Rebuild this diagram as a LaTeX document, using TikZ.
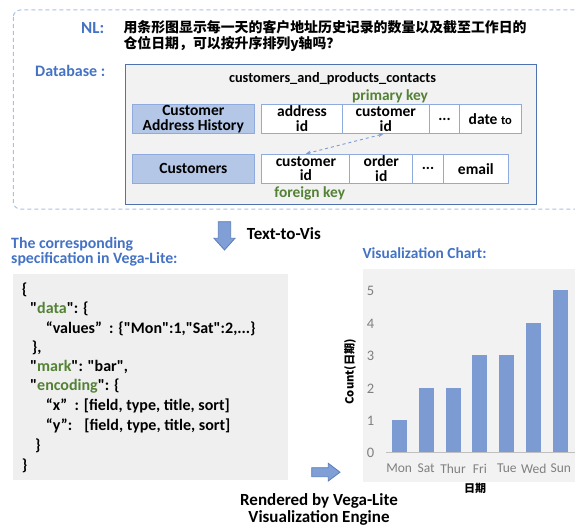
\documentclass[tikz,border=0pt]{standalone}
\usepackage{fontspec}
\setmainfont{Carlito}[Ligatures=TeXOff]
\newfontfamily\cjk{Noto Sans CJK SC}
\usetikzlibrary{arrows.meta}
\definecolor{lblue}{HTML}{4472C4}
\definecolor{kgreen}{HTML}{548235}
\definecolor{dashb}{HTML}{A9C0E6}
\definecolor{dbfill}{HTML}{F2F2F2}
\definecolor{dbline}{HTML}{4F72B0}
\definecolor{hdrfill}{HTML}{B4C7E7}
\definecolor{cellb}{HTML}{8FAADC}
\definecolor{barc}{HTML}{7B9BD2}
\definecolor{arrf}{HTML}{7F9FD6}
\definecolor{arrd}{HTML}{5A7DB9}
\definecolor{codef}{HTML}{EFEFEF}
\definecolor{axisg}{HTML}{808080}
\tikzset{
  hdr/.style={draw=cellb, fill=hdrfill, line width=1pt, inner sep=0pt, minimum height=29pt, align=center, font=\bfseries\fontsize{15.5}{14.8}\selectfont},
  cell/.style={draw=cellb, fill=white, line width=1pt, inner sep=0pt, minimum height=29pt, align=center, font=\bfseries\fontsize{15.5}{14.8}\selectfont},
  bluelbl/.style={text=lblue, font=\bfseries\fontsize{15.8}{15.3}\selectfont, inner sep=0pt, align=left},
  keylbl/.style={text=kgreen, font=\bfseries\fontsize{15.4}{16}\selectfont, inner sep=0pt},
  codeln/.style={anchor=west, inner sep=0pt, font=\bfseries\fontsize{16}{18}\selectfont},
  ticklbl/.style={text=axisg, inner sep=0pt, font=\fontsize{13.5}{15}\selectfont},
  blockarrow/.style={fill=arrf, draw=arrd, line width=0.8pt, line join=miter},
  fk/.style={dashed, draw=barc, line width=0.9pt, {Stealth[length=5pt,width=4pt]}-{Stealth[length=5pt,width=4pt]}}
}
\newcommand{\kw}[1]{\textcolor{kgreen}{#1}}
\begin{document}
\begin{tikzpicture}[x=1pt,y=-1pt]
\useasboundingbox (0,0) rectangle (575,527);
\clip (0,0) rectangle (575,527);
% outer dashed frame
\draw[dashb, line width=1pt, dash pattern=on 4pt off 3pt, rounded corners=7pt] (13.3,10) rectangle (600,209);
% NL
\node[bluelbl, anchor=east, font=\bfseries\fontsize{17}{18}\selectfont] (nl) at (104.5,28.5) {NL:};
\node[anchor=north west, inner sep=0pt, align=left, font=\cjk\bfseries\fontsize{13.9}{16.7}\selectfont] (q) at (123.3,20) {用条形图显示每一天的客户地址历史记录的数量以及截至工作日的\\仓位日期，可以按升序排列y轴吗？};
\node[bluelbl, anchor=west, font=\bfseries\fontsize{16}{17}\selectfont] (dbl) at (35,70.5) {Database :};
% database box
\draw[fill=dbfill, draw=dbline, line width=1pt] (125.7,64.3) rectangle (536.7,204.3);
\node[inner sep=0pt, font=\bfseries\fontsize{14.3}{15}\selectfont] (title) at (332.5,78.5) {customers\_and\_products\_contacts};
\node[keylbl] (pk) at (390,96) {primary key};
% row 1
\node[hdr, minimum width=122pt] (cah) at (193.3,119) {Customer\\Address History};
\node[cell, minimum width=80.6pt] (addr) at (302,119) {address\\id};
\node[cell, minimum width=87pt] (cust1) at (385.8,119) {customer\\id};
\node[cell, minimum width=30.3pt] (dots1) at (444.5,119) {...};
\node[cell, minimum width=61.4pt] (dateto) at (490.3,119) {date {\fontsize{12.5}{12}\selectfont to}};
% row 2
\node[hdr, minimum width=122pt] (cus) at (193.3,168.7) {Customers};
\node[cell, minimum width=88.3pt] (cust2) at (305.9,168.7) {customer\\id};
\node[cell, minimum width=62.7pt] (order) at (381.3,168.7) {order\\id};
\node[cell, minimum width=30.6pt] (dots2) at (428,168.7) {...};
\node[cell, minimum width=65pt] (email) at (475.8,168.7) {email};
\node[keylbl] (fkl) at (309.7,193) {foreign key};
\draw[fk] ([xshift=-2.5pt]cust1.south) -- (cust2.north);
% down arrow + Text-to-Vis
\draw[blockarrow] (218.3,221.7) -- (230.7,221.7) -- (230.7,238.3) -- (235,238.3) -- (224.5,250) -- (214,238.3) -- (218.3,238.3) -- cycle;
\node[anchor=west, inner sep=0pt, font=\bfseries\fontsize{17}{18}\selectfont] (t2v) at (246.7,233.5) {Text-to-Vis};
% left spec
\node[bluelbl, anchor=west] (spec) at (11,251.7) {The corresponding\\specification in Vega-Lite:};
\fill[codef] (12.7,274) rectangle (288.3,480);
\node[codeln] (c1) at (21.7,290) {\{};
\node[codeln] (c2) at (30,309.3) {"\kw{data}": \{};
\node[codeln] (c3) at (45.7,328.5) {“values”\ \ : \{"Mon":1,"Sat":2,...\}};
\node[codeln] (c4) at (31.7,347.7) {\},};
\node[codeln] (c5) at (30,366.7) {"\kw{mark}": "bar",};
\node[codeln] (c6) at (30,385.8) {"\kw{encoding}": \{};
\node[codeln] (c7) at (45.7,405.7) {“x” \ : [field, type, title, sort]};
\node[codeln] (c8) at (45.7,425.7) {“y”: \ \ [field, type, title, sort]};
\node[codeln] (c9) at (35,445.7) {\}};
\node[codeln] (c10) at (21.7,465.7) {\}};
% right arrow
\draw[blockarrow] (311.7,467.7) -- (328.3,467.7) -- (328.3,463.3) -- (340,472.2) -- (328.3,481) -- (328.3,476.7) -- (311.7,476.7) -- cycle;
\node[inner sep=0pt, align=center, font=\bfseries\fontsize{17}{16.5}\selectfont] (rend) at (319,509.5) {Rendered by Vega-Lite\\Visualization Engine};
% chart
\node[bluelbl, anchor=west, font=\bfseries\fontsize{15.4}{16}\selectfont] (vc) at (362.3,252.7) {Visualization Chart:};
\fill[dbfill] (363.3,269.3) rectangle (580,481.7);
\foreach \v [count=\i from 0] in {1,2,2,3,3,4,5} {
  \fill[barc] ({399.2+26.93*\i-7.5},452.7) rectangle ({399.2+26.93*\i+7.5},{452.7-32.46*\v});
}
\draw[draw=axisg!50, line width=1pt] (386,452.7) -- (575,452.7);
\foreach \k in {0,...,5} {
  \node[ticklbl, font=\fontsize{14.5}{15}\selectfont] (y\k) at (370.5,{453.3-32.46*\k}) {\k};
}
\foreach \d [count=\i from 0] in {Mon,Sat,Thur,Fri,Tue,Wed,Sun} {
  \node[ticklbl] (x\i) at ({399.2+26.93*\i},468.5) {\d};
}
\node[inner sep=0pt, rotate=90, font=\cjk\bfseries\fontsize{11.2}{12}\selectfont] (ylab) at (350,371.7) {Count(日期)};
\node[inner sep=0pt, font=\cjk\bfseries\fontsize{11}{12}\selectfont] (xlab) at (475,488.5) {日期};
\end{tikzpicture}
\end{document}
